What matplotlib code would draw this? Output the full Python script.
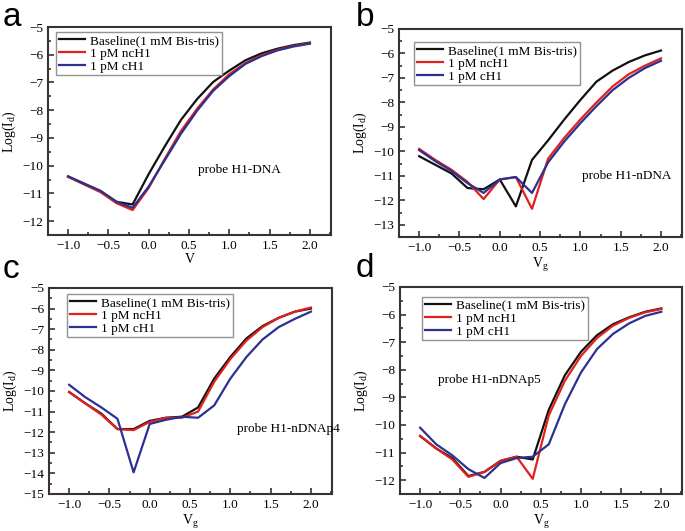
import numpy as np
import matplotlib
matplotlib.use("Agg")
import matplotlib.pyplot as plt
from matplotlib.ticker import MultipleLocator

plt.rcParams['font.family'] = ['Liberation Serif', 'DejaVu Serif']
plt.rcParams['mathtext.fontset'] = 'custom'
plt.rcParams['mathtext.rm'] = 'Liberation Serif'

# gate voltage sweep, same for every panel
vg = [-1.0, -0.8, -0.6, -0.4, -0.2, 0.0, 0.2, 0.4, 0.6, 0.8, 1.0, 1.2, 1.4, 1.6, 1.8, 2.0]

series_labels = ['Baseline(1 mM Bis-tris)', '1 pM ncH1', '1 pM cH1']

# panel a: probe H1-DNA
a_base = [-10.4, -10.65, -10.92, -11.3, -11.4, -10.3, -9.3, -8.35, -7.6, -6.98, -6.57, -6.2, -5.95, -5.78, -5.65, -5.56]
a_nc = [-10.4, -10.68, -10.95, -11.35, -11.6, -10.8, -9.75, -8.75, -7.95, -7.25, -6.7, -6.3, -6.02, -5.82, -5.68, -5.58]
a_c = [-10.38, -10.65, -10.9, -11.3, -11.52, -10.75, -9.8, -8.85, -8.02, -7.3, -6.77, -6.33, -6.05, -5.84, -5.7, -5.6]

# panel b: probe H1-nDNA
b_base = [-10.2, -10.55, -10.9, -11.5, -11.55, -11.15, -12.25, -10.35, -9.55, -8.7, -7.9, -7.15, -6.7, -6.35, -6.08, -5.88]
b_nc = [-9.9, -10.35, -10.75, -11.25, -11.95, -11.15, -11.05, -12.35, -10.3, -9.45, -8.7, -8.0, -7.35, -6.85, -6.5, -6.2]
b_c = [-9.95, -10.4, -10.8, -11.3, -11.7, -11.15, -11.05, -11.7, -10.45, -9.6, -8.85, -8.15, -7.5, -7.0, -6.6, -6.3]

# panel c: probe H1-nDNAp4
c_base = [-10.05, -10.6, -11.1, -11.85, -11.85, -11.45, -11.3, -11.25, -10.8, -9.4, -8.35, -7.45, -6.85, -6.45, -6.15, -6.0]
c_nc = [-10.05, -10.6, -11.15, -11.85, -11.9, -11.5, -11.3, -11.3, -11.0, -9.55, -8.45, -7.55, -6.9, -6.45, -6.15, -5.95]
c_c = [-9.7, -10.3, -10.8, -11.35, -13.95, -11.6, -11.4, -11.25, -11.3, -10.7, -9.4, -8.35, -7.5, -6.9, -6.5, -6.15]

# panel d: probe H1-nDNAp5
d_base = [-10.4, -10.85, -11.2, -11.85, -11.7, -11.3, -11.15, -11.25, -9.45, -8.2, -7.35, -6.75, -6.35, -6.1, -5.9, -5.78]
d_nc = [-10.4, -10.85, -11.25, -11.88, -11.7, -11.3, -11.15, -11.95, -9.65, -8.4, -7.5, -6.85, -6.4, -6.12, -5.92, -5.8]
d_c = [-10.1, -10.7, -11.1, -11.6, -11.92, -11.38, -11.2, -11.15, -10.7, -9.25, -8.1, -7.25, -6.7, -6.32, -6.05, -5.9]

colors = ['#111111', '#e2201e', '#2b3190']
spine_col = '#3a3232'

panels = [
    # letter, data, xlabel, probe text, ylim, axes rect, legend anchor, text pos, letter pos
    ('a', (a_base, a_nc, a_c), 'V', 'probe H1-DNA', (-12.5, -5),
     [0.070, 0.5574, 0.413, 0.3917], (0.028, 0.976), (0.53, 0.3125), (0.004, 0.951)),
    ('b', (b_base, b_nc, b_c), 'V$_\\mathrm{g}$', 'probe H1-nDNA', (-13.5, -5),
     [0.5825, 0.5537, 0.413, 0.3917], (0.053, 0.9375), (0.647, 0.293), (0.519, 0.951)),
    ('c', (c_base, c_nc, c_c), 'V$_\\mathrm{g}$', 'probe H1-nDNAp4', (-15, -5),
     [0.0715, 0.0697, 0.413, 0.388], (0.064, 0.971), (0.664, 0.316), (0.004, 0.477)),
    ('d', (d_base, d_nc, d_c), 'V$_\\mathrm{g}$', 'probe H1-nDNAp5', (-12.5, -5),
     [0.584, 0.0697, 0.412, 0.39], (0.078, 0.952), (0.135, 0.551), (0.519, 0.479)),
]

fig = plt.figure(figsize=(6.85, 5.31), dpi=100)

for letter, ys, xlab, probe, ylim, rect, leg_xy, txt_xy, lab_xy in panels:
    ax = fig.add_axes(rect)
    for y, lab, col in zip(ys, series_labels, colors):
        ax.plot(vg, y, color=col, lw=1.6, label=lab)
    ax.set_xlim(-1.25, 2.26)
    ax.set_ylim(*ylim)
    ax.xaxis.set_major_locator(MultipleLocator(0.5))
    ax.xaxis.set_minor_locator(MultipleLocator(0.25))
    ax.yaxis.set_major_locator(MultipleLocator(1))
    ax.yaxis.set_minor_locator(MultipleLocator(0.5))
    ax.xaxis.set_major_formatter(plt.FuncFormatter(lambda v, p: f'{v:.1f}'.replace('-', '\u2212')))
    ax.tick_params(which='both', direction='in', top=False, right=False,
                   color=spine_col, width=1.2, labelsize=9.5)
    ax.tick_params(which='major', length=4)
    ax.tick_params(which='minor', length=2)
    for s in ax.spines.values():
        s.set_color(spine_col)
        s.set_linewidth(1.5)
    ax.set_xlabel(xlab, fontsize=10, labelpad=1)
    ax.set_ylabel('Log(I$_\\mathrm{d}$)', fontsize=10, labelpad=3)
    leg = ax.legend(loc='upper left', bbox_to_anchor=leg_xy, borderaxespad=0,
                    fontsize=9.5, frameon=True, fancybox=False, handlelength=2.0,
                    handletextpad=0.4, borderpad=0.2, labelspacing=0.05)
    leg.get_frame().set_edgecolor('#777777')
    leg.get_frame().set_linewidth(1.0)
    ax.text(txt_xy[0], txt_xy[1], probe, transform=ax.transAxes,
            fontsize=9.5, va='center', ha='left')
    fig.text(lab_xy[0], lab_xy[1], letter, fontsize=24,
             family='Liberation Sans', va='baseline', ha='left')

fig.savefig('out.png', dpi=100)
